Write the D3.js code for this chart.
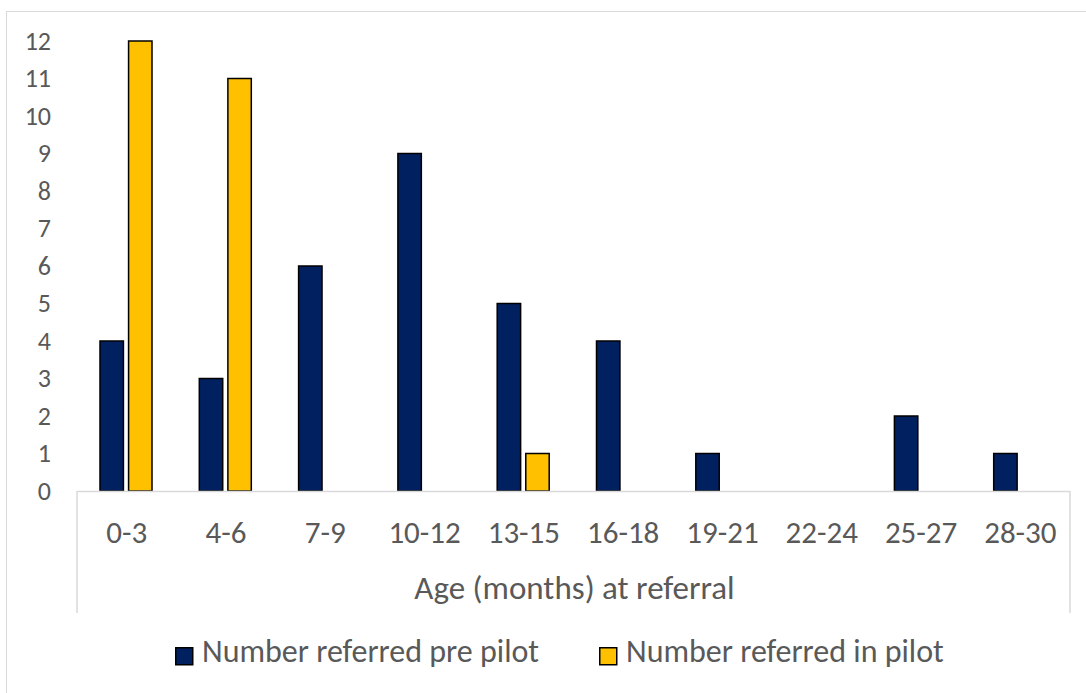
<!DOCTYPE html>
<html>
<head>
<meta charset="utf-8">
<script src="https://cdn.jsdelivr.net/npm/d3@7"></script>
<style>
  html, body { margin: 0; padding: 0; background: #fff; }
  svg { display: block; }
  text { font-family: Carlito, Calibri, Lato, "Open Sans", sans-serif; fill: #595959; }
</style>
</head>
<body>
<svg id="chart" width="1086" height="693"></svg>
<script>
// Age bands (months) at referral
const categories = ["0-3", "4-6", "7-9", "10-12", "13-15", "16-18", "19-21", "22-24", "25-27", "28-30"];
// Referrals per age band
const prePilot = [4, 3, 6, 9, 5, 4, 1, 0, 2, 1];
const inPilot = [12, 11, 0, 0, 1, 0, 0, 0, 0, 0];
const seriesNames = ["Number referred pre pilot", "Number referred in pilot"];
const seriesColors = ["#002060", "#FFC000"];
const yTicks = d3.range(0, 13);

const FONT = "Carlito, Calibri, Lato, 'Open Sans', sans-serif";
const svg = d3.select("#chart");
const W = 1086, H = 693;

// chart area frame
svg.append("rect")
  .attr("x", 6.5).attr("y", 11.5)
  .attr("width", W + 10).attr("height", H + 10)
  .attr("fill", "#fff").attr("stroke", "#d9d9d9").attr("stroke-width", 1);

const plot = { left: 77, right: 1070, top: 41, bottom: 491 };

const x0 = d3.scaleBand().domain(categories).range([plot.left, plot.right]);
const x1 = d3.scaleBand().domain([0, 1]).range([23, 75]).paddingInner(0.18).paddingOuter(0);
const y = d3.scaleLinear().domain([0, 12]).range([plot.bottom, plot.top]);

// y tick labels
const yAxis = d3.axisLeft(y).tickValues(yTicks).tickSize(0).tickPadding(0).tickFormat(d3.format("d"));
const yg = svg.append("g").attr("transform", "translate(51,0)").call(yAxis);
yg.select(".domain").remove();
yg.selectAll("text").attr("font-size", 26).attr("dy", "0.32em").attr("fill", "#595959")
  .style("font-family", FONT);

// bars
const rows = categories.map((c, i) => ({ cat: c, vals: [prePilot[i], inPilot[i]] }));
const groups = svg.append("g").selectAll("g").data(rows).join("g")
  .attr("transform", d => `translate(${x0(d.cat)},0)`);
groups.selectAll("rect")
  .data(d => d.vals.map((v, s) => ({ v, s })).filter(e => e.v > 0))
  .join("rect")
  .attr("x", e => x1(e.s))
  .attr("y", e => y(e.v))
  .attr("width", x1.bandwidth())
  .attr("height", e => y(0) - y(e.v))
  .attr("fill", e => seriesColors[e.s])
  .attr("stroke", "#000")
  .attr("stroke-width", 1.5);

// category axis
const xAxis = d3.axisBottom(x0).tickSize(0).tickPadding(0);
const xg = svg.append("g").attr("transform", `translate(0,${plot.bottom})`).call(xAxis);
xg.select(".domain").remove();
xg.selectAll("text").attr("font-size", 31).attr("dy", null).attr("y", 52).attr("fill", "#595959")
  .style("font-family", FONT);

const axisColor = "#d9d9d9";
svg.append("line").attr("x1", plot.left).attr("x2", plot.right)
  .attr("y1", plot.bottom + 0.5).attr("y2", plot.bottom + 0.5)
  .attr("stroke", axisColor).attr("stroke-width", 1.5);
[plot.left, plot.right].forEach(xx => {
  svg.append("line").attr("x1", xx).attr("x2", xx)
    .attr("y1", plot.bottom).attr("y2", 613)
    .attr("stroke", axisColor).attr("stroke-width", 1.5);
});

// axis title
svg.append("text")
  .attr("x", (plot.left + plot.right) / 2 + 1).attr("y", 599)
  .attr("text-anchor", "middle").attr("font-size", 33)
  .text("Age (months) at referral");

// legend
const legendX = [175, 599];
const lg = svg.append("g").selectAll("g").data(seriesNames).join("g")
  .attr("transform", (d, i) => `translate(${legendX[i]},647)`);
lg.append("rect").attr("x", 0.75).attr("y", 0.75).attr("width", 17).attr("height", 17)
  .attr("fill", (d, i) => seriesColors[i]).attr("stroke", "#000").attr("stroke-width", 1.5);
lg.append("text").attr("x", 27).attr("y", 15).attr("font-size", 32).text(d => d);
</script>
</body>
</html>
